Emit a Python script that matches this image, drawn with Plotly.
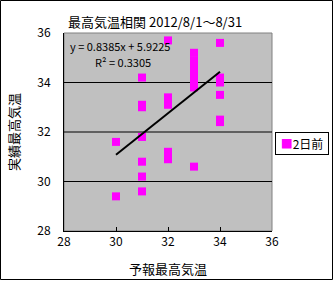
import plotly.graph_objects as go
import numpy as np

# data
x_vals = [30, 30,
          31, 31, 31, 31, 31, 31, 31,
          32, 32, 32, 32, 32, 32,
          33, 33, 33, 33, 33, 33, 33, 33,
          34, 34, 34, 34, 34, 34]
y_vals = [31.6, 29.4,
          34.2, 33.1, 33.0, 31.8, 30.8, 30.2, 29.6,
          35.7, 33.4, 33.1, 31.2, 31.0, 30.9,
          35.2, 34.9, 34.7, 34.5, 34.2, 34.0, 33.8, 30.6,
          35.6, 34.2, 34.0, 33.5, 32.5, 32.4]
slope = 0.8385
intercept = 5.9225
r2 = 0.3305
series_name = "2日前"
marker_color = "#FF00FF"
title_text = "最高気温相関 2012/8/1～8/31"
x_title = "予報最高気温"
y_title = "実績最高気温"
grid_vals = [30, 32, 34]

W, H = 334, 281
L, R, T, B = 64, 62, 33, 50
pw, ph = W - L - R, H - T - B

font = "Noto Sans CJK JP, Liberation Sans, sans-serif"

fig = go.Figure()
fig.add_trace(go.Scatter(x=x_vals, y=y_vals, mode="markers", name=series_name,
                         showlegend=False,
                         marker=dict(symbol="square", size=8, color=marker_color,
                                     line=dict(width=0))))
tx = np.array([min(x_vals), max(x_vals)], dtype=float)
fig.add_trace(go.Scatter(x=tx, y=slope * tx + intercept, mode="lines",
                         line=dict(color="black", width=2), showlegend=False,
                         hoverinfo="skip"))

shapes = []
shapes.append(dict(type="rect", xref="paper", yref="paper", x0=0, x1=1, y0=0, y1=1,
                   fillcolor="#C0C0C0", line=dict(color="#808080", width=1), layer="below"))
for g in grid_vals:
    shapes.append(dict(type="line", xref="paper", yref="y", x0=0, x1=1, y0=g, y1=g,
                       line=dict(color="black", width=1), layer="below"))
shapes.append(dict(type="rect", xref="paper", yref="paper",
                   x0=(0.5 - L) / pw, x1=(W - 1.5 - L) / pw,
                   y0=-(B - 1.5) / ph, y1=1 + (T - 0.5) / ph,
                   line=dict(color="black", width=1)))

annotations = [
    dict(text=title_text, xref="paper", yref="paper", x=(155 - L) / pw, y=1 + (T - 22) / ph,
         showarrow=False, font=dict(size=13, color="black", family=font), xanchor="center", yanchor="middle"),
    dict(text=x_title, xref="paper", yref="paper", x=(168 - L) / pw, y=-(268 - T - ph) / ph,
         showarrow=False, font=dict(size=13, color="black", family=font), xanchor="center", yanchor="middle"),
    dict(text=y_title, xref="paper", yref="paper", x=-(L - 13) / pw, y=(T + ph - 132) / ph,
         showarrow=False, textangle=-90, font=dict(size=13, color="black", family=font),
         xanchor="center", yanchor="middle"),
    dict(text=f"y = {slope}x + {intercept}", xref="paper", yref="paper", x=(68 - L) / pw,
         y=(T + ph - 46) / ph, showarrow=False, xanchor="left", yanchor="middle",
         font=dict(size=11, color="black", family=font)),
    dict(text=f"R² = {r2}", xref="paper", yref="paper", x=(93 - L) / pw,
         y=(T + ph - 62) / ph, showarrow=False, xanchor="left", yanchor="middle",
         font=dict(size=11, color="black", family=font)),
    dict(text=f"<span style='color:{marker_color}'>■</span>{series_name}",
         xref="paper", yref="paper", x=(275 - L) / pw, y=(T + ph - 132) / ph,
         xanchor="left", yanchor="top", showarrow=False, width=48, align="center",
         bgcolor="white", bordercolor="black", borderwidth=1, borderpad=2,
         font=dict(size=12, color="black", family=font)),
]

fig.update_layout(
    width=W, height=H,
    margin=dict(l=L, r=R, t=T, b=B, pad=0),
    paper_bgcolor="white", plot_bgcolor="rgba(0,0,0,0)",
    font=dict(family=font, size=12, color="black"),
    shapes=shapes, annotations=annotations,
    showlegend=False,
    xaxis=dict(range=[28, 36], dtick=2, showgrid=False, zeroline=False,
               showline=True, linecolor="black", linewidth=1,
               ticks="inside", ticklen=4, tickcolor="black",
               tickfont=dict(size=12, family=font, color="black")),
    yaxis=dict(range=[28, 36], dtick=2, showgrid=False, zeroline=False,
               showline=True, linecolor="black", linewidth=1,
               ticks="outside", ticklen=10, tickcolor="rgba(0,0,0,0)",
               tickfont=dict(size=12, family=font, color="black")),
)
fig.write_html("out.html")
